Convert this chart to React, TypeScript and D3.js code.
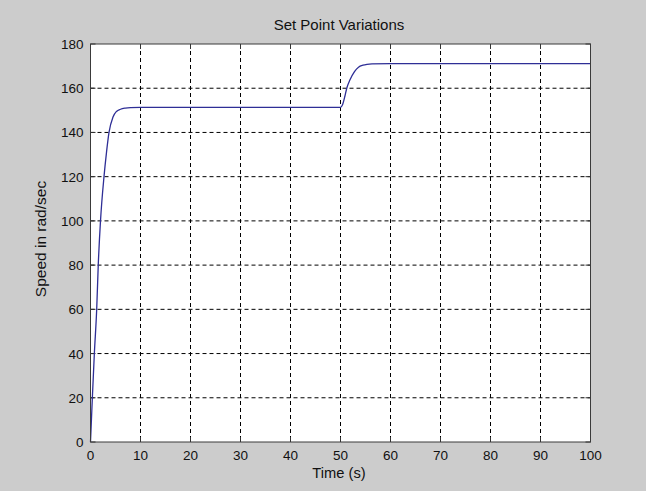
import React from "react";
import * as d3 from "d3";

const timeValues = [0, 0.37, 0.77, 1.24, 1.55, 2.0, 2.7, 3.2, 3.7, 4.5, 5.2, 6, 7, 8, 10, 20, 30, 40, 50, 50.4, 50.9, 51.25, 51.9, 52.8, 53.6, 54.5, 55.3, 56.3, 60, 70, 80, 90, 100];
const speedValues = [0, 20, 40, 60, 80, 100, 120, 131, 140, 147, 149.5, 150.5, 151, 151.2, 151.3, 151.3, 151.3, 151.3, 151.3, 152.5, 156.6, 160, 163.8, 167.5, 169.5, 170.4, 170.8, 171, 171.1, 171.1, 171.1, 171.1, 171.1];
const xTicks = [0, 10, 20, 30, 40, 50, 60, 70, 80, 90, 100];
const yTicks = [0, 20, 40, 60, 80, 100, 120, 140, 160, 180];
const titleText = "Set Point Variations";
const xLabelText = "Time (s)";
const yLabelText = "Speed in rad/sec";

export default function App() {
  const W = 646, H = 491;
  const left = 90.5, right = 590.5, top = 44, bottom = 442;
  const x = d3.scaleLinear().domain([0, 100]).range([left, right]);
  const y = d3.scaleLinear().domain([0, 180]).range([bottom, top]);
  const pts = timeValues.map((t, i) => [t, speedValues[i]] as [number, number]);
  const line = d3.line<[number, number]>().x(d => x(d[0])).y(d => y(d[1])).curve(d3.curveMonotoneX);
  const font = "'Liberation Sans', Arial, sans-serif";
  return (
    <svg width={W} height={H} style={{ position: "absolute", left: 0, top: 0 }} fontFamily={font}>
      <rect x={0} y={0} width={W} height={H} fill="#cccccc" />
      <rect x={left} y={top} width={right - left} height={bottom - top} fill="#ffffff" />
      {xTicks.slice(1, -1).map(t => (
        <line key={"gx" + t} x1={x(t)} x2={x(t)} y1={top} y2={bottom} stroke="#000" strokeWidth={1} strokeDasharray="4,3" />
      ))}
      {yTicks.slice(1, -1).map(t => (
        <line key={"gy" + t} x1={left} x2={right} y1={y(t)} y2={y(t)} stroke="#000" strokeWidth={1} strokeDasharray="4,3" />
      ))}
      {xTicks.map(t => (
        <g key={"tx" + t}>
          <line x1={x(t)} x2={x(t)} y1={bottom} y2={bottom - 5} stroke="#333" />
          <line x1={x(t)} x2={x(t)} y1={top} y2={top + 5} stroke="#333" />
          <text x={x(t)} y={460} textAnchor="middle" fontSize={13.5} fill="#111">{t}</text>
        </g>
      ))}
      {yTicks.map(t => (
        <g key={"ty" + t}>
          <line x1={left} x2={left + 5} y1={y(t)} y2={y(t)} stroke="#333" />
          <line x1={right} x2={right - 5} y1={y(t)} y2={y(t)} stroke="#333" />
          <text x={83.5} y={y(t) + 5} textAnchor="end" fontSize={13.5} fill="#111">{t}</text>
        </g>
      ))}
      <path d={line(pts) ?? ""} fill="none" stroke="#2e2e96" strokeWidth={1.3} />
      <rect x={left} y={top} width={right - left} height={bottom - top} fill="none" stroke="#3a3a3a" strokeWidth={1} />
      <text x={339} y={30} textAnchor="middle" fontSize={15} fill="#111">{titleText}</text>
      <text x={339} y={478} textAnchor="middle" fontSize={14.7} fill="#111">{xLabelText}</text>
      <text transform={`translate(46,239) rotate(-90)`} textAnchor="middle" fontSize={15.5} fill="#111">{yLabelText}</text>
    </svg>
  );
}
